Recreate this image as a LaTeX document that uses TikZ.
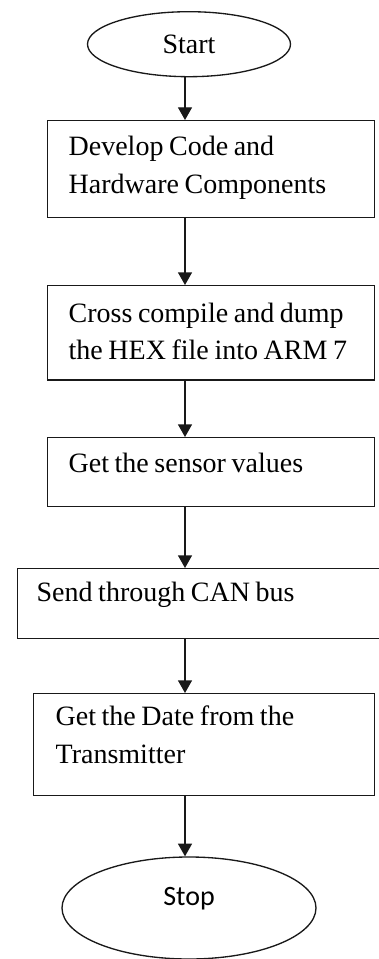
\documentclass[tikz,border=0pt]{standalone}
\usepackage{fontspec}
\setmainfont{Liberation Serif}
\newfontfamily\stopfont{Carlito}
\usepackage{tikz}
\usetikzlibrary{arrows.meta,shapes.geometric}
\definecolor{fcedge}{RGB}{25,25,25}
\tikzset{
  fcbox/.style={
    draw=fcedge, line width=1pt, align=left, anchor=north west,
    inner ysep=0pt, font=\fontsize{21pt}{28.1pt}\selectfont,
    execute at begin node={\spaceskip=0.2em\relax}
  },
  stepbox/.style={fcbox, inner xsep=15.75pt, text width=213.75pt},
  term/.style={
    ellipse, draw=fcedge, line width=1pt, inner sep=0pt,
    font=\fontsize{21pt}{28pt}\selectfont
  },
  arr/.style={-{Triangle[length=9.5pt,width=10.5pt]}, draw=fcedge, line width=1pt}
}
\begin{document}
\begin{tikzpicture}[x=0.75pt, y=-0.75pt]
  \useasboundingbox (0,0) rectangle (378,959);
  \coordinate (spine) at (185,0);
  \node[term, minimum width=152.25pt, minimum height=48.75pt, text height=13.65pt, text depth=0pt] (start) at (189,44.2) {Start};
  \node[stepbox, text height=26.25pt, text depth=46.5pt] (dev) at (47,120) {Develop Code and\\Hardware Components};
  \node[stepbox, text height=27.5pt, text depth=43.2pt] (cross) at (47,285) {Cross compile and dump\\the HEX file into ARM 7};
  \node[stepbox, text height=26.25pt, text depth=25.5pt] (sensor) at (47,437) {Get the sensor values};
  \node[fcbox, inner xsep=14.25pt, text width=244.5pt, text height=24.75pt, text depth=27.75pt] (can) at (17,568) {Send through CAN bus};
  \node[fcbox, inner xsep=16.5pt, text width=222.75pt, text height=24pt, text depth=52.5pt] (date) at (33,693) {Get the Date from the\\Transmitter};
  \node[term, font={\stopfont\fontsize{21pt}{28pt}\selectfont}, minimum width=190.5pt, minimum height=76.5pt, text height=13.5pt, text depth=18pt] (stop) at (189,908) {Stop};
  \foreach \p/\q in {start/dev,dev/cross,cross/sensor,sensor/can,can/date,date/stop} \draw[arr] (\p.south -| spine) -- (\q.north -| spine);
\end{tikzpicture}
\end{document}
